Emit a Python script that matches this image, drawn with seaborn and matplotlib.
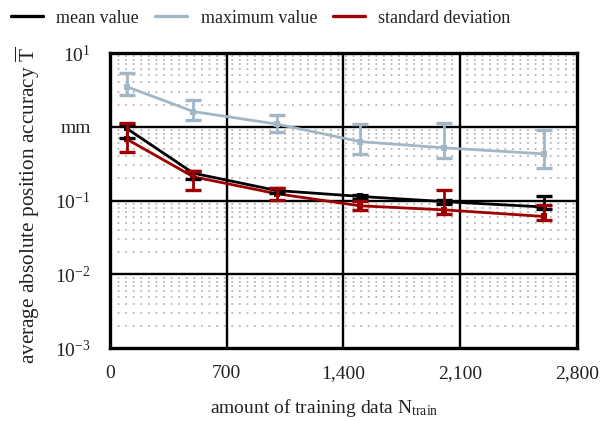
import numpy as np
import pandas as pd
import matplotlib
matplotlib.use("Agg")
import matplotlib.pyplot as plt
import seaborn as sns

# amount of training data
n_train = [100, 500, 1000, 1500, 2000, 2600]

# mean value
mean_val = [0.95, 0.235, 0.137, 0.114, 0.097, 0.082]
mean_lo = [0.70, 0.197, 0.125, 0.104, 0.090, 0.077]
mean_hi = [1.05, 0.250, 0.148, 0.118, 0.102, 0.116]

# maximum value
max_val = [3.5, 1.61, 1.09, 0.63, 0.52, 0.43]
max_lo = [2.7, 1.22, 0.85, 0.43, 0.38, 0.275]
max_hi = [5.3, 2.3, 1.45, 1.09, 1.12, 0.91]

# standard deviation
std_val = [0.68, 0.21, 0.124, 0.085, 0.075, 0.061]
std_lo = [0.45, 0.14, 0.103, 0.075, 0.066, 0.054]
std_hi = [1.12, 0.25, 0.148, 0.100, 0.140, 0.088]

x_ticks = [0, 700, 1400, 2100, 2800]
x_tick_labels = ["0", "700", "1,400", "2,100", "2,800"]
y_ticks = [1e-3, 1e-2, 1e-1, 1e0, 1e1]
y_tick_labels = ["$10^{-3}$", "$10^{-2}$", "$10^{-1}$", "mm", "$10^{1}$"]

sns.set_style("white")
plt.rcParams["font.family"] = ["Liberation Serif", "DejaVu Serif"]
plt.rcParams["mathtext.fontset"] = "custom"
plt.rcParams["mathtext.rm"] = "Liberation Serif"
plt.rcParams["mathtext.it"] = "Liberation Serif:italic"

fig = plt.figure(figsize=(6.15, 4.21), dpi=100)
ax = fig.add_axes([0.179, 0.173, 0.759, 0.701])

series = [
    ("mean value", mean_val, mean_lo, mean_hi, "#000000"),
    ("maximum value", max_val, max_lo, max_hi, "#a2b7c5"),
    ("standard deviation", std_val, std_lo, std_hi, "#9e0000"),
]

frames = []
for name, vals, lo, hi, col in series:
    frames.append(pd.DataFrame({"n": n_train, "val": vals, "series": name}))
df = pd.concat(frames, ignore_index=True)

palette = {name: col for name, _, _, _, col in series}
sns.lineplot(data=df, x="n", y="val", hue="series", palette=palette,
             marker="s", markersize=4.5, markeredgewidth=0, linewidth=2.0,
             ax=ax, zorder=3)

for i, (name, vals, lo, hi, col) in enumerate(series):
    v = np.array(vals)
    yerr = [v - np.array(lo), np.array(hi) - v]
    ax.errorbar(n_train, v, yerr=yerr, fmt="none", ecolor=col,
                elinewidth=2.0, capsize=6, capthick=2.4, zorder=4 + i)

ax.set_yscale("log")
ax.set_ylim(1e-3, 1e1)
ax.set_xlim(0, 2800)
ax.set_xticks(x_ticks)
ax.set_xticklabels(x_tick_labels)
ax.set_yticks(y_ticks)
ax.set_yticklabels(y_tick_labels)
ax.yaxis.set_minor_locator(matplotlib.ticker.LogLocator(base=10, subs=np.arange(2, 10)))
ax.yaxis.set_minor_formatter(matplotlib.ticker.NullFormatter())

# grid: solid black major lines, dotted grey minor rows
ax.grid(False)
for xv in x_ticks[1:-1]:
    ax.axvline(xv, color="black", linewidth=1.7, zorder=1)
for yv in y_ticks[1:-1]:
    ax.axhline(yv, color="black", linewidth=1.7, zorder=1)
ax.grid(True, which="minor", axis="y", color="#b5b5b5", linewidth=1.3,
        linestyle=(0, (1, 3.2)), zorder=0)
ax.set_axisbelow(True)
ax.tick_params(which="both", length=0, labelsize=14, colors="#222222")
ax.tick_params(axis="y", pad=14)
ax.tick_params(axis="x", pad=12)

for s in ax.spines.values():
    s.set_color("black")
    s.set_linewidth(2.4)

ax.set_xlabel("amount of training data N$_{\\mathrm{train}}$", fontsize=14,
              labelpad=11, color="#222222", x=0.458)
ax.set_ylabel("average absolute position accuracy $\\overline{\\mathrm{T}}$",
              fontsize=15.3, labelpad=9.5, color="#222222", y=0.485)

ax.legend_.remove()
handles = [matplotlib.lines.Line2D([], [], color=c, linewidth=2.4) for _, _, _, _, c in series]
labels = [s[0] for s in series]
fig.legend(handles, labels, loc="center left", bbox_to_anchor=(-0.008, 0.957),
           ncol=3, frameon=False, fontsize=13, handlelength=1.75,
           handletextpad=0.75, columnspacing=0.9, labelcolor="#222222")

fig.savefig("out.png", dpi=100)
